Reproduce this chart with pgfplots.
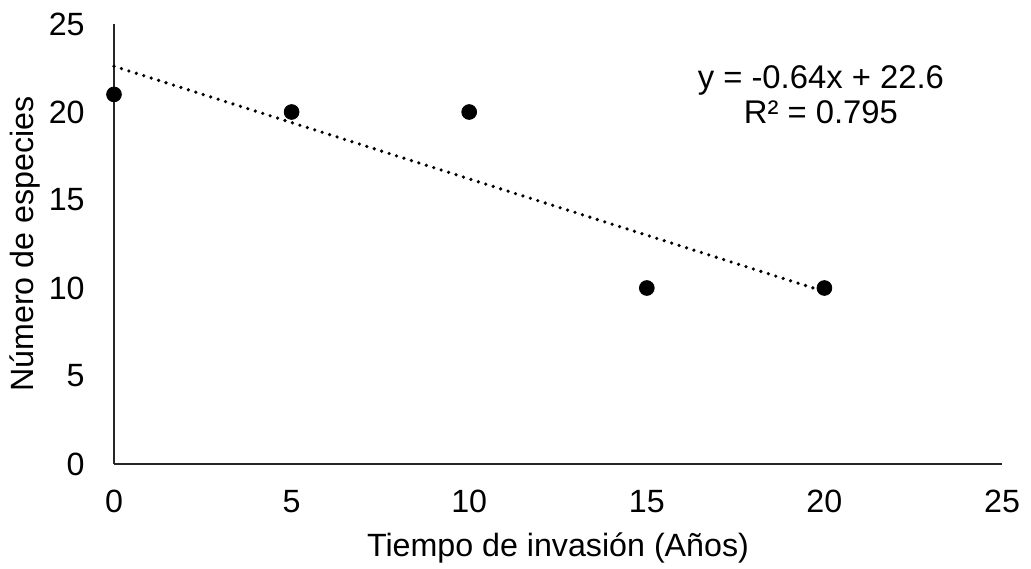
\documentclass[border=0pt]{standalone}
\usepackage{fontspec}
\setmainfont{Liberation Sans}
\usepackage{pgfplots}
\pgfplotsset{compat=1.18}

\begin{document}
\fontsize{16.1}{19}\selectfont
\begin{tikzpicture}
\useasboundingbox (-57pt,-52pt) rectangle (458.5pt,232pt);
\begin{axis}[
  scale only axis,
  width=444pt, height=220pt,
  xmin=0, xmax=25, ymin=0, ymax=25,
  xtick={0,5,...,25}, ytick={0,5,...,25},
  axis lines=left,
  axis line style={-, line width=0.75pt, black!85},
  major tick length=0pt,
  clip=false,
  /pgf/number format/assume math mode=true,
  tick label style={font=\fontsize{16.1}{19}\selectfont},
  xticklabel style={anchor=north, inner sep=0pt, yshift=-13pt},
  yticklabel style={anchor=east, inner sep=0pt, xshift=-14.5pt},
  xlabel={Tiempo de invasión (Años)},
  ylabel={Número de especies},
  label style={font=\fontsize{16.1}{19}\selectfont},
  xlabel style={at={(axis description cs:0.5,0)}, anchor=center, yshift=-42pt},
  ylabel style={at={(axis description cs:0,0.5)}, anchor=center, yshift=44.5pt},
]
\addplot[black, line width=1.8pt, line cap=round, dash pattern=on 0pt off 3.9pt]
  coordinates {(0,22.6) (20,9.8)};
\addplot[only marks, mark=*, mark size=3.7pt, black]
  coordinates {(0,21) (5,20) (10,20) (15,10) (20,10)};
\node[align=center, font=\fontsize{16.4}{17.5}\selectfont]
  at (axis cs:19.9,21) {y = -0.64x + 22.6\\R² = 0.795};
\end{axis}
\end{tikzpicture}
\end{document}
